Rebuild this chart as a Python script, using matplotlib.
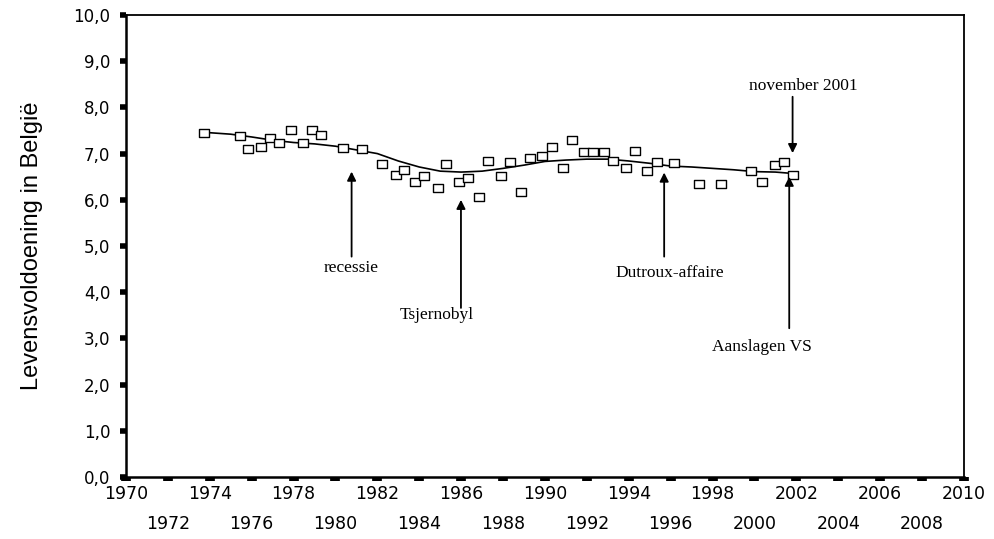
import matplotlib
matplotlib.use('Agg')
import matplotlib.pyplot as plt
from matplotlib.path import Path
from matplotlib.ticker import FixedLocator

# survey waves (year, mean life satisfaction)
surveyYears = [1973.74, 1975.44, 1975.84, 1976.46, 1976.87, 1977.30, 1977.86, 1978.45,
               1978.88, 1979.29, 1980.36, 1981.28, 1982.23, 1982.89, 1983.28, 1983.81,
               1984.24, 1984.88, 1985.26, 1985.91, 1986.34, 1986.86, 1987.29, 1987.90,
               1988.32, 1988.87, 1989.27, 1989.87, 1990.32, 1990.84, 1991.27, 1991.86,
               1992.31, 1992.82, 1993.26, 1993.87, 1994.30, 1994.89, 1995.33, 1996.17,
               1997.35, 1998.39, 1999.83, 2000.37, 2000.96, 2001.41, 2001.82]
surveyVals = [7.44, 7.37, 7.09, 7.14, 7.34, 7.24, 7.50, 7.22,
              7.50, 7.41, 7.12, 7.10, 6.78, 6.54, 6.64, 6.39,
              6.51, 6.26, 6.78, 6.39, 6.47, 6.07, 6.85, 6.51,
              6.82, 6.16, 6.90, 6.94, 7.14, 6.69, 7.29, 7.03,
              7.03, 7.03, 6.85, 6.69, 7.06, 6.63, 6.82, 6.80,
              6.35, 6.35, 6.63, 6.39, 6.75, 6.82, 6.54]

# smoothed trend
trendYears = [1973.74, 1975, 1976, 1977, 1978, 1979, 1980, 1981, 1982, 1983, 1984,
              1985, 1986, 1987, 1988, 1989, 1990, 1991, 1992, 1993, 1994, 1995,
              1996, 1997, 1998, 1999, 2000, 2001, 2001.82]
trendVals = [7.46, 7.42, 7.36, 7.29, 7.24, 7.21, 7.16, 7.08, 7.00, 6.84, 6.71,
             6.62, 6.60, 6.62, 6.68, 6.75, 6.83, 6.86, 6.88, 6.88, 6.84, 6.79,
             6.73, 6.71, 6.68, 6.65, 6.61, 6.60, 6.57]

yTicks = [0, 1, 2, 3, 4, 5, 6, 7, 8, 9, 10]
xTicksTop = list(range(1970, 2011, 4))
xTicksLow = list(range(1972, 2010, 4))

# rectangle marker, a bit wider than tall
rectMarker = Path([(-1, -0.75), (1, -0.75), (1, 0.75), (-1, 0.75), (-1, -0.75)],
                  [Path.MOVETO, Path.LINETO, Path.LINETO, Path.LINETO, Path.CLOSEPOLY])

fig = plt.figure(figsize=(9.95, 5.39), dpi=100)
ax = fig.add_axes([0.1266, 0.115, 0.8422, 0.8572])

ax.plot(trendYears, trendVals, color='black', lw=1.2, zorder=2)
ax.plot(surveyYears, surveyVals, ls='none', marker=rectMarker, markersize=7,
        markerfacecolor='white', markeredgecolor='black', markeredgewidth=1.0, zorder=3)

ax.set_xlim(1970, 2010)
ax.set_ylim(0, 10)

ax.yaxis.set_major_locator(FixedLocator(yTicks))
ax.set_yticklabels(['{0:.1f}'.format(v).replace('.', ',') for v in yTicks],
                   fontsize=12, family='DejaVu Sans')
ax.tick_params(axis='y', direction='out', length=4.3, width=4, pad=7, color='black')

ax.xaxis.set_major_locator(FixedLocator(xTicksTop))
ax.xaxis.set_minor_locator(FixedLocator(xTicksLow))
ax.set_xticklabels([str(v) for v in xTicksTop], fontsize=12.5, family='DejaVu Sans')
ax.set_xticklabels([str(v) for v in xTicksLow], minor=True, fontsize=12.5, family='DejaVu Sans')
ax.tick_params(axis='x', which='both', direction='out', length=3, width=7, color='black')
ax.tick_params(axis='x', which='major', pad=3)
ax.tick_params(axis='x', which='minor', pad=24)

for side in ['left', 'bottom']:
    ax.spines[side].set_linewidth(1.8)
for side in ['top', 'right']:
    ax.spines[side].set_linewidth(1.3)

ax.set_ylabel('Levensvoldoening in België', fontsize=17, family='Liberation Sans', labelpad=22)

# events
arrowStyle = dict(arrowstyle='-|>', color='black', lw=1.3, mutation_scale=13, shrinkA=0, shrinkB=0)
events = [
    ('recessie', (1980.77, 6.61), (1980.77, 4.77), (1980.77, 4.52)),
    ('Tsjernobyl', (1985.99, 6.00), (1985.99, 3.66), (1984.83, 3.51)),
    ('Dutroux-affaire', (1995.69, 6.59), (1995.69, 4.77), (1995.97, 4.41)),
    ('Aanslagen VS', (2001.66, 6.50), (2001.66, 3.22), (2000.34, 2.82)),
    ('november 2001', (2001.82, 7.01), (2001.82, 8.23), (2002.33, 8.46)),
]
for label, tip, tail, txt in events:
    ax.annotate('', xy=tip, xytext=tail, arrowprops=arrowStyle)
    ax.text(txt[0], txt[1], label, ha='center', va='center', fontsize=12.5,
            family='Liberation Serif', color='black')

fig.savefig('out.png', dpi=100)
